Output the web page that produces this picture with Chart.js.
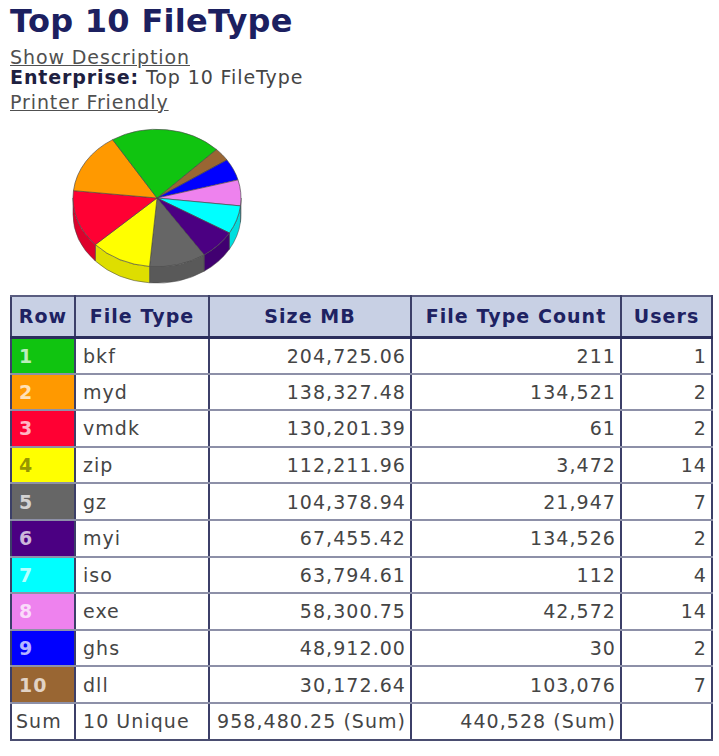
<!DOCTYPE html>
<html>
<head>
<meta charset="utf-8">
<title>Top 10 FileType</title>
<script src="https://cdn.jsdelivr.net/npm/chart.js@4/dist/chart.umd.min.js"></script>
<style>
    body {
        margin: 0;
        padding: 0 0 0 10px;
        background: #ffffff;
        color: #454545;
        font-family: 'DejaVu Sans', Verdana, sans-serif;
    }
    .title {
        font-size: 32px;
        font-weight: bold;
        color: #1c2060;
        line-height: 40px;
        letter-spacing: 0.3px;
        padding-top: 1px;
    }
    .line {
        font-size: 19px;
        line-height: 20px;
        letter-spacing: 0.9px;
    }
    .line a { color: #505050; text-decoration: underline; }
    .line b { color: #1e2040; }
    #chartBox {
        position: relative;
        height: 180px;
        margin-top: -5px;
    }
    #pieChart {
        position: absolute;
        left: 47px;
        top: 1px;
    }
    table {
        border-collapse: collapse;
        table-layout: fixed;
        width: 701px;
        margin-top: 8px;
        font-size: 19px;
        letter-spacing: 1.05px;
    }
    th, td {
        border-left: 2px solid #3c3f68;
        border-right: 2px solid #3c3f68;
        border-top: 2px solid #8d90a8;
        border-bottom: 2px solid #8d90a8;
        padding: 0 4px 0 7px;
        white-space: nowrap;
        overflow: hidden;
    }
    th {
        background: #c8d0e4;
        color: #1e2262;
        font-weight: bold;
        text-align: center;
        border-top-color: #5a5d80;
        border-bottom: 3px solid #2b2e5c;
        padding: 0 2px;
    }
    tr.head { height: 41px; }
    tr.data { height: 36.6px; }
    tr.sum td { border-bottom-color: #4a4d70; }
    td.num { text-align: right; }
    td.rowNo { font-weight: bold; }
</style>
</head>
<body>
<div class="title">Top 10 FileType</div>
<div class="line" style="margin-top:6px"><a>Show Description</a></div>
<div class="line"><b>Enterprise:</b> Top 10 FileType</div>
<div class="line" style="margin-top:5px"><a>Printer Friendly</a></div>
<div id="chartBox"><canvas id="pieChart" width="200" height="180"></canvas></div>
<table id="fileTable">
    <colgroup>
        <col style="width:64px"><col style="width:134px"><col style="width:202px"><col style="width:210px"><col style="width:91px">
    </colgroup>
    <thead>
        <tr class="head"><th>Row</th><th>File Type</th><th>Size MB</th><th>File Type Count</th><th>Users</th></tr>
    </thead>
    <tbody></tbody>
</table>
<script>
// Données du tableau et du camembert
const fileTypes = ['bkf', 'myd', 'vmdk', 'zip', 'gz', 'myi', 'iso', 'exe', 'ghs', 'dll'];
const sizeMB = [204725.06, 138327.48, 130201.39, 112211.96, 104378.94, 67455.42, 63794.61, 58300.75, 48912.00, 30172.64];
const typeCounts = [211, 134521, 61, 3472, 21947, 134526, 112, 42572, 30, 103076];
const userCounts = [1, 2, 2, 14, 7, 2, 4, 14, 2, 7];

// Couleurs des parts (même ordre que les données)
const sliceColors = ['#10c410', '#ff9900', '#ff0033', '#ffff00', '#666666', '#4b0082', '#00ffff', '#ee82ee', '#0000ff', '#996633'];

// Effet 3D : aplatissement et épaisseur du camembert
const SQUASH = 0.818;
const DEPTH = 20;

function darken(hex, factor) {
    const r = parseInt(hex.substring(1, 3), 16);
    const g = parseInt(hex.substring(3, 5), 16);
    const b = parseInt(hex.substring(5, 7), 16);
    return `rgb(${Math.round(r * factor)}, ${Math.round(g * factor)}, ${Math.round(b * factor)})`;
}

const fmt2 = v => v.toLocaleString('en-US', { minimumFractionDigits: 2, maximumFractionDigits: 2 });
const fmt0 = v => v.toLocaleString('en-US');

// Construire les lignes du tableau
const tbody = document.querySelector('#fileTable tbody');
fileTypes.forEach((type, i) => {
    const tr = document.createElement('tr');
    tr.className = 'data';
    const numColor = sliceColors[i] === '#ffff00' ? 'rgba(60,60,0,0.55)' : 'rgba(255,255,255,0.72)';
    tr.innerHTML =
        `<td class="rowNo" style="background:${sliceColors[i]};color:${numColor}">${i + 1}</td>` +
        `<td>${type}</td>` +
        `<td class="num">${fmt2(sizeMB[i])}</td>` +
        `<td class="num">${fmt0(typeCounts[i])}</td>` +
        `<td class="num">${userCounts[i]}</td>`;
    tbody.appendChild(tr);
});

// Ligne des totaux
const sumRow = document.createElement('tr');
sumRow.className = 'data sum';
sumRow.innerHTML =
    `<td style="padding-left:4px">Sum</td>` +
    `<td>${fileTypes.length} Unique</td>` +
    `<td class="num">${fmt2(sizeMB.reduce((a, b) => a + b, 0))} (Sum)</td>` +
    `<td class="num">${fmt0(typeCounts.reduce((a, b) => a + b, 0))} (Sum)</td>` +
    `<td></td>`;
tbody.appendChild(sumRow);

// Plugin pour dessiner le flanc et aplatir le camembert
const pie3D = {
    id: 'pie3D',
    beforeDatasetsDraw(chart) {
        const ctx = chart.ctx;
        const arcs = chart.getDatasetMeta(0).data;
        const colors = chart.data.datasets[0].backgroundColor;
        const cx = arcs[0].x;
        const cy = arcs[0].y;
        ctx.save();
        ctx.translate(cx, cy);
        ctx.scale(1, SQUASH);
        ctx.translate(-cx, -cy);

        arcs.forEach((arc, i) => {
            [0, 2 * Math.PI].forEach(k => {
                const s = Math.max(arc.startAngle, k);
                const e = Math.min(arc.endAngle, k + Math.PI);
                if (e <= s) return;
                ctx.beginPath();
                ctx.arc(cx, cy, arc.outerRadius, s, e);
                ctx.arc(cx, cy + DEPTH, arc.outerRadius, e, s, true);
                ctx.closePath();
                ctx.fillStyle = darken(colors[i], 0.87);
                ctx.fill();
                ctx.strokeStyle = 'rgba(70, 70, 70, 0.6)';
                ctx.lineWidth = 1;
                ctx.stroke();
            });
        });
    },
    afterDatasetsDraw(chart) {
        chart.ctx.restore();
    }
};

// Créer le camembert (sens antihoraire : données inversées)
const ctx = document.getElementById('pieChart').getContext('2d');
new Chart(ctx, {
    type: 'pie',
    data: {
        labels: fileTypes.slice().reverse(),
        datasets: [{
            data: sizeMB.slice().reverse(),
            backgroundColor: sliceColors.slice().reverse(),
            borderColor: 'rgba(70, 70, 70, 0.7)',
            borderWidth: 1,
            radius: 84
        }]
    },
    options: {
        responsive: false,
        animation: false,
        rotation: 45,
        events: [],
        plugins: {
            legend: { display: false },
            tooltip: { enabled: false }
        }
    },
    plugins: [pie3D]
});
</script>
</body>
</html>
